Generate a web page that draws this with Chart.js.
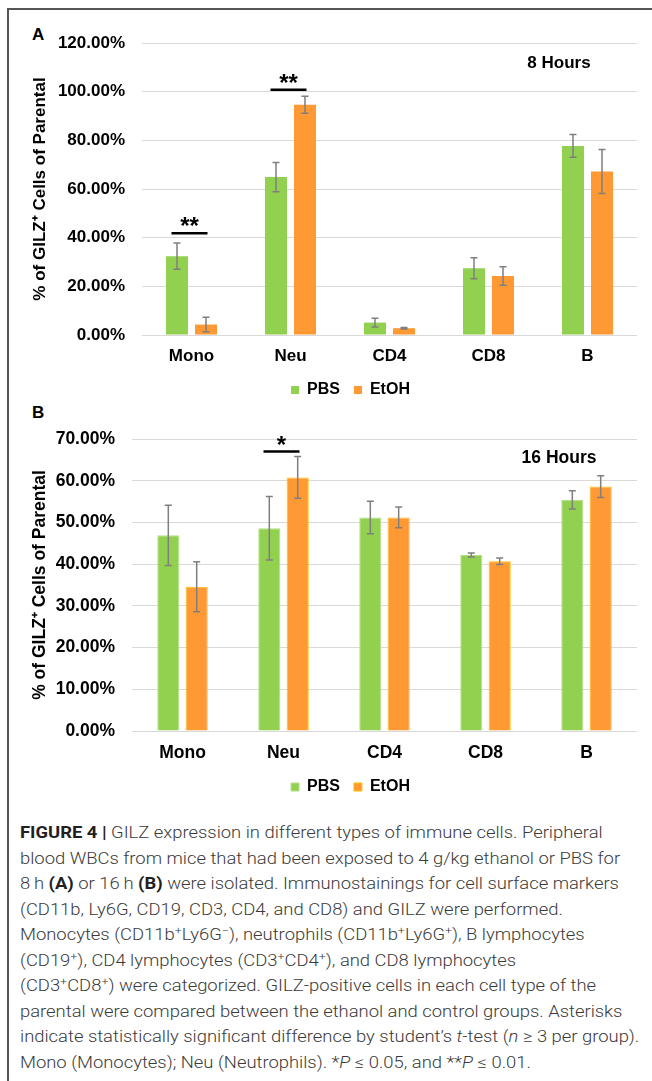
<!DOCTYPE html>
<html>
<head>
<meta charset="utf-8">
<script src="https://cdn.jsdelivr.net/npm/chart.js@4.4.0/dist/chart.umd.min.js"></script>
<style>
  body { margin: 0; background: #fff; width: 652px; height: 1081px; position: relative; overflow: hidden;
         font-family: "Liberation Sans", Arial, sans-serif; }
  #frame { position: absolute; left: 7px; top: 8px; width: 645px; height: 1073px;
           border-top: 2px solid #555; border-left: 2px solid #555; }
  canvas { position: absolute; left: 8px; }
  #chartA { top: 10px; }
  #chartB { top: 404px; }
  .letter { position: absolute; font-weight: bold; font-size: 17px; color: #000; line-height: 1; }
  #caption { position: absolute; left: 20px; top: 820px; font-family: Roboto, "Liberation Sans", sans-serif;
             font-size: 16px; line-height: 25.5px; color: #3a3a3a; white-space: nowrap; font-weight: 300;
             transform: scaleX(1.15); transform-origin: 0 0; }
  #caption b { color: #231f20; font-weight: bold; }
  #caption sup { font-size: 0.68em; line-height: 0; vertical-align: 0.55em; }
</style>
</head>
<body>
<div id="frame"></div>
<div class="letter" style="left:32px; top:26px;">A</div>
<div class="letter" style="left:32px; top:404px;">B</div>
<canvas id="chartA" width="632" height="398"></canvas>
<canvas id="chartB" width="632" height="401"></canvas>
<div id="caption">
<b>FIGURE 4 |</b> GILZ expression in different types of immune cells. Peripheral<br>
blood WBCs from mice that had been exposed to 4 g/kg ethanol or PBS for<br>
8&#8201;h <b>(A)</b> or 16&#8201;h <b>(B)</b> were isolated. Immunostainings for cell surface markers<br>
(CD11b, Ly6G, CD19, CD3, CD4, and CD8) and GILZ were performed.<br>
Monocytes (CD11b<sup>+</sup>Ly6G<sup>&minus;</sup>), neutrophils (CD11b<sup>+</sup>Ly6G<sup>+</sup>), B lymphocytes<br>
(CD19<sup>+</sup>), CD4 lymphocytes (CD3<sup>+</sup>CD4<sup>+</sup>), and CD8 lymphocytes<br>
(CD3<sup>+</sup>CD8<sup>+</sup>) were categorized. GILZ-positive cells in each cell type of the<br>
parental were compared between the ethanol and control groups. Asterisks<br>
indicate statistically significant difference by student&rsquo;s <i>t</i>-test (<i>n</i> &ge; 3 per group).<br>
Mono (Monocytes); Neu (Neutrophils). *<i>P</i> &le; 0.05, and **<i>P</i> &le; 0.01.
</div>
<script>
// cell types on the x axis
const categories = ['Mono', 'Neu', 'CD4', 'CD8', 'B'];

// 8 hours (panel A), % of GILZ+ cells
const pbs8h = [32.4, 64.9, 5.1, 27.4, 77.7];
const pbs8hErr = [5.4, 6.0, 1.8, 4.3, 4.7];
const etoh8h = [4.3, 94.6, 2.8, 24.2, 67.2];
const etoh8hErr = [3.0, 3.5, 0.3, 3.8, 9.0];

// 16 hours (panel B)
const pbs16h = [46.9, 48.6, 51.2, 42.2, 55.4];
const pbs16hErr = [7.2, 7.6, 3.9, 0.5, 2.2];
const etoh16h = [34.6, 60.8, 51.2, 40.7, 58.6];
const etoh16hErr = [6.0, 5.0, 2.5, 0.8, 2.6];

// significance brackets: category index, bracket height (%), stars
const sig8h = [{ index: 0, level: 41.8, stars: '**' }, { index: 1, level: 100.8, stars: '**' }];
const sig16h = [{ index: 1, level: 67.0, stars: '*' }];

Chart.defaults.font.family = '"Liberation Sans", Arial, sans-serif';
Chart.defaults.color = '#000';

// draws the gray error bars on top of each bar
const errorBarPlugin = {
  id: 'errorBars',
  afterDatasetsDraw(chart) {
    const ctx = chart.ctx;
    const yScale = chart.scales.y;
    ctx.save();
    ctx.strokeStyle = '#7f7f7f';
    ctx.lineWidth = 1.5;
    chart.data.datasets.forEach((ds, di) => {
      chart.getDatasetMeta(di).data.forEach((bar, i) => {
        const top = yScale.getPixelForValue(ds.data[i] + ds.errors[i]);
        const bot = yScale.getPixelForValue(ds.data[i] - ds.errors[i]);
        ctx.beginPath();
        ctx.moveTo(bar.x, top); ctx.lineTo(bar.x, bot);
        ctx.moveTo(bar.x - 3.5, top); ctx.lineTo(bar.x + 3.5, top);
        ctx.moveTo(bar.x - 3.5, bot); ctx.lineTo(bar.x + 3.5, bot);
        ctx.stroke();
      });
    });
    ctx.restore();
  }
};

// the legend sits a bit right of the canvas centre in the original
const legendShift = {
  id: 'legendShift',
  afterLayout(chart) {
    chart.legend.left += 28;
    chart.legend.right += 28;
  }
};

// significance lines with stars, plus the time label in the corner
function makeAnnotPlugin(marks, label, labelValue, fontSize) {
  return {
    id: 'annot',
    afterDraw(chart) {
      const ctx = chart.ctx;
      const xScale = chart.scales.x;
      const yScale = chart.scales.y;
      ctx.save();
      marks.forEach(m => {
        const cx = xScale.getPixelForValue(m.index) - 2;
        const y = yScale.getPixelForValue(m.level);
        ctx.strokeStyle = '#000';
        ctx.lineWidth = 2.5;
        ctx.beginPath();
        ctx.moveTo(cx - 18, y); ctx.lineTo(cx + 18, y);
        ctx.stroke();
        ctx.fillStyle = '#000';
        ctx.font = 'bold 24px "Liberation Sans", Arial, sans-serif';
        ctx.textAlign = 'center';
        ctx.textBaseline = 'alphabetic';
        ctx.fillText(m.stars, cx, y + 1);
      });
      ctx.font = 'bold ' + fontSize + 'px "Liberation Sans", Arial, sans-serif';
      ctx.fillStyle = '#000';
      ctx.textAlign = 'center';
      ctx.textBaseline = 'middle';
      ctx.fillText(label, chart.chartArea.right - 78, yScale.getPixelForValue(labelValue));
      ctx.restore();
    }
  };
}

function createPanel(canvasId, pbs, pbsErr, etoh, etohErr, cfg) {
  const ctx = document.getElementById(canvasId).getContext('2d');
  new Chart(ctx, {
    type: 'bar',
    data: {
      labels: categories,
      datasets: [{
        label: 'PBS',
        data: pbs,
        errors: pbsErr,
        backgroundColor: '#92d050',
        borderColor: cfg.borders ? '#b5e08a' : '#92d050',
        borderWidth: cfg.borders ? 1 : 0
      }, {
        label: 'EtOH',
        data: etoh,
        errors: etohErr,
        backgroundColor: '#ff9933',
        borderColor: cfg.borders ? '#ffc000' : '#ff9933',
        borderWidth: cfg.borders ? 1 : 0
      }]
    },
    options: {
      responsive: false,
      animation: false,
      categoryPercentage: cfg.catPct,
      barPercentage: cfg.barPct,
      layout: { padding: { left: 0, right: 3, top: cfg.top, bottom: 0 } },
      scales: {
        x: {
          grid: { display: false, drawTicks: false },
          border: { display: false },
          ticks: { padding: cfg.xPad, font: { size: cfg.font, weight: 'bold' }, color: '#000' },
          afterFit: s => { s.height = cfg.xHeight; }
        },
        y: {
          min: 0,
          max: cfg.max,
          border: { display: false },
          grid: { color: '#d9d9d9', lineWidth: 1, drawTicks: false },
          ticks: {
            stepSize: cfg.step,
            padding: 17,
            font: { size: cfg.font, weight: 'bold' },
            color: '#000',
            callback: v => v.toFixed(2) + '%'
          },
          title: {
            display: true,
            text: '% of GILZ\u207A Cells of Parental',
            font: { size: cfg.font, weight: 'bold' },
            color: '#000',
            padding: { top: 22, bottom: 0 }
          },
          afterFit: s => { s.width = cfg.yWidth; }
        }
      },
      plugins: {
        legend: {
          position: 'bottom',
          labels: { boxWidth: 8, boxHeight: 8, padding: 14, font: { size: 16, weight: 'bold' }, color: '#000' }
        },
        tooltip: { enabled: false }
      }
    },
    plugins: [errorBarPlugin, legendShift, makeAnnotPlugin(cfg.marks, cfg.label, cfg.labelValue, cfg.font)]
  });
}

createPanel('chartA', pbs8h, pbs8hErr, etoh8h, etoh8hErr, {
  max: 120, step: 20, top: 33, yWidth: 134, xHeight: 33, xPad: 11, font: 17,
  catPct: 0.586, barPct: 0.76, borders: false,
  marks: sig8h, label: '8 Hours', labelValue: 111.6
});

createPanel('chartB', pbs16h, pbs16hErr, etoh16h, etoh16hErr, {
  max: 70, step: 10, top: 35, yWidth: 124, xHeight: 34, xPad: 11.5, font: 17.5,
  catPct: 0.562, barPct: 0.78, borders: true,
  marks: sig16h, label: '16 Hours', labelValue: 65.4
});
</script>
</body>
</html>
